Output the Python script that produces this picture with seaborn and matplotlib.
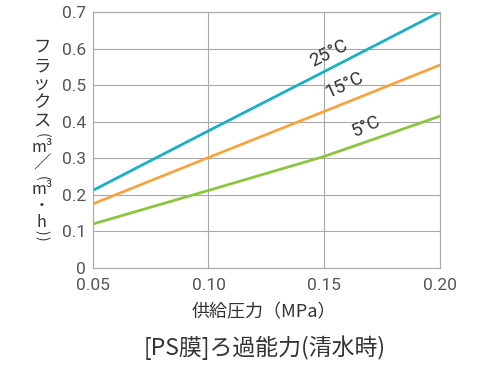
import matplotlib
matplotlib.use("Agg")
import matplotlib.pyplot as plt
import seaborn as sns
import pandas as pd

pressure = [0.05, 0.10, 0.15, 0.20]
flux_25 = [0.212, 0.375, 0.537, 0.700]
flux_15 = [0.175, 0.302, 0.428, 0.555]
flux_5 = [0.120, 0.212, 0.305, 0.415]
series_names = ["25°C", "15°C", "5°C"]
colors = ["#1aafc6", "#f6a540", "#8cc540"]
x_ticks = [0.05, 0.10, 0.15, 0.20]
x_tick_labels = ["0.05", "0.10", "0.15", "0.20"]
y_ticks = [0, 0.1, 0.2, 0.3, 0.4, 0.5, 0.6, 0.7]
y_tick_labels = ["0", "0.1", "0.2", "0.3", "0.4", "0.5", "0.6", "0.7"]
y_label_chars = ["フ", "ラ", "ッ", "ク", "ス", "(", "m³", "／", "(", "m³", "・", "h", ")", ")"]

rows = []
for name, vals in zip(series_names, [flux_25, flux_15, flux_5]):
    for p, v in zip(pressure, vals):
        rows.append({"p": p, "flux": v, "temp": name})
df = pd.DataFrame(rows)

sns.set_style("white")
plt.rcParams['font.family'] = ['Noto Sans CJK JP', 'DejaVu Sans']

W, H = 486, 365
fig = plt.figure(figsize=(W / 100, H / 100), dpi=100)
ax = fig.add_axes([0.191, 0.266, 0.714, 0.701])
sns.lineplot(data=df, x="p", y="flux", hue="temp", palette=colors,
             hue_order=series_names, linewidth=2.0, ax=ax, legend=False)

ax.set_xlim(0.05, 0.20)
ax.set_ylim(0, 0.7)
tick_font = dict(fontsize=12.5, family=['Roboto', 'DejaVu Sans'], color="#555555")
ax.set_xticks(x_ticks)
ax.set_xticklabels(x_tick_labels, **tick_font)
ax.set_yticks(y_ticks)
ax.set_yticklabels(y_tick_labels, **tick_font)
ax.grid(True, color="#a8a8a8", linewidth=0.8)
for s in ax.spines.values():
    s.set_color("#a8a8a8")
    s.set_linewidth(0.8)
ax.tick_params(axis="x", length=0, pad=7)
ax.tick_params(axis="y", length=0, pad=5)
ax.set_xlabel("供給圧力（MPa）", fontsize=13, color="#333333")
ax.xaxis.set_label_coords(0.493, -0.14)
ax.set_ylabel("")

# vertical-writing y label (pixel centres from the top of the figure)
y_centres = [47, 66, 84, 102, 121, 135, 147, 163, 178, 190, 206, 222, 232, 238]
for ch, yc in zip(y_label_chars, y_centres):
    if ch in "()":
        fig.text(0.086, 1 - yc / H, ch, ha="center", va="center", rotation=-90,
                 fontsize=10, color="#333333", rotation_mode="anchor")
    elif ch in ("m³", "h", "・"):
        fig.text(0.086, 1 - yc / H, ch, ha="center", va="center",
                 fontsize=11.5, color="#333333")
    else:
        fig.text(0.086, 1 - yc / H, ch, ha="center", va="center",
                 fontsize=12.5, color="#333333")

fig.text(0.545, 1 - 348 / H, "[PS膜]ろ過能力(清水時)", ha="center", va="center",
         fontsize=16.5, color="#333333")

lab_font = dict(fontsize=13.5, color="#333333", ha="center", va="center",
                family=['Roboto', 'DejaVu Sans'])
ax.text(0.152, 0.588, "25°C", rotation=27, **lab_font)
ax.text(0.159, 0.500, "15°C", rotation=25, **lab_font)
ax.text(0.168, 0.388, "5°C", rotation=24, **lab_font)

fig.savefig("out.png", dpi=100)
